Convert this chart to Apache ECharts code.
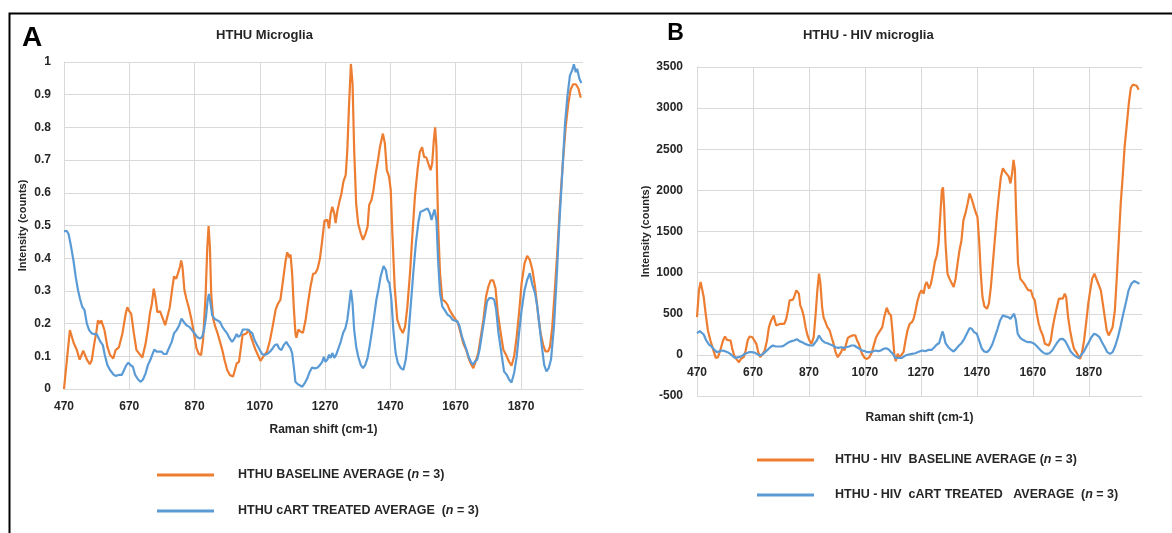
<!DOCTYPE html>
<html><head><meta charset="utf-8">
<script src="https://cdn.jsdelivr.net/npm/echarts@6/dist/echarts.min.js"></script>
<style>html,body{margin:0;padding:0;background:#fff}#c{width:1172px;height:533px}</style>
</head><body><div id="c"></div><script>
// ---- data ----
const xTicks = [470, 670, 870, 1070, 1270, 1470, 1670, 1870];
const titleA = 'HTHU Microglia';
const titleB = 'HTHU - HIV microglia';
const nameABase = 'HTHU BASELINE AVERAGE (n = 3)';
const nameACart = 'HTHU cART TREATED AVERAGE  (n = 3)';
const nameBBase = 'HTHU - HIV  BASELINE AVERAGE (n = 3)';
const nameBCart = 'HTHU - HIV  cART TREATED   AVERAGE  (n = 3)';

// [Raman shift, intensity]
const aBaseline = [[470,0.0],[488,0.18],[492,0.175],[500,0.14],[509,0.12],[518,0.09],[523,0.093],[529,0.117],[534,0.114],[541,0.088],[549,0.076],[555,0.088],[562,0.134],[570,0.18],[574,0.21],[580,0.2],[584,0.21],[589,0.215],[594,0.18],[603,0.129],[611,0.104],[621,0.093],[628,0.119],[638,0.127],[649,0.17],[659,0.23],[664,0.25],[670,0.238],[676,0.23],[684,0.17],[692,0.119],[700,0.109],[710,0.096],[720,0.139],[728,0.19],[733,0.23],[739,0.26],[745,0.307],[750,0.28],[756,0.235],[764,0.238],[771,0.22],[780,0.195],[786,0.198],[794,0.25],[802,0.31],[807,0.344],[814,0.337],[819,0.342],[825,0.373],[829,0.393],[833,0.373],[839,0.302],[845,0.276],[853,0.246],[861,0.21],[868,0.17],[876,0.124],[883,0.107],[890,0.104],[896,0.149],[904,0.291],[909,0.434],[913,0.498],[917,0.434],[921,0.29],[927,0.215],[933,0.192],[939,0.175],[948,0.144],[955,0.119],[962,0.088],[970,0.058],[978,0.043],[988,0.038],[992,0.043],[999,0.078],[1006,0.083],[1011,0.119],[1017,0.165],[1023,0.165],[1029,0.17],[1036,0.182],[1041,0.165],[1050,0.139],[1057,0.119],[1064,0.104],[1072,0.086],[1078,0.09],[1084,0.104],[1092,0.114],[1101,0.149],[1109,0.19],[1118,0.241],[1125,0.26],[1133,0.273],[1141,0.332],[1149,0.393],[1154,0.418],[1160,0.403],[1164,0.411],[1169,0.352],[1174,0.25],[1179,0.17],[1182,0.157],[1188,0.182],[1195,0.175],[1202,0.172],[1210,0.21],[1217,0.26],[1225,0.312],[1233,0.352],[1240,0.354],[1247,0.368],[1254,0.398],[1261,0.454],[1268,0.515],[1273,0.52],[1277,0.517],[1282,0.491],[1287,0.537],[1292,0.557],[1298,0.537],[1302,0.507],[1308,0.547],[1315,0.578],[1320,0.598],[1326,0.634],[1333,0.654],[1338,0.73],[1343,0.863],[1349,0.994],[1354,0.934],[1359,0.73],[1365,0.568],[1371,0.507],[1379,0.476],[1386,0.456],[1394,0.476],[1400,0.496],[1405,0.563],[1412,0.578],[1418,0.608],[1425,0.659],[1432,0.7],[1438,0.741],[1447,0.781],[1453,0.751],[1459,0.669],[1466,0.649],[1471,0.608],[1476,0.476],[1483,0.313],[1491,0.212],[1500,0.186],[1508,0.171],[1515,0.191],[1522,0.252],[1530,0.354],[1537,0.466],[1545,0.588],[1553,0.669],[1560,0.725],[1567,0.739],[1573,0.71],[1580,0.708],[1586,0.705],[1593,0.669],[1598,0.69],[1603,0.761],[1607,0.8],[1611,0.741],[1616,0.507],[1622,0.354],[1629,0.273],[1637,0.268],[1645,0.257],[1651,0.242],[1657,0.232],[1663,0.222],[1670,0.212],[1677,0.201],[1685,0.171],[1693,0.14],[1702,0.12],[1711,0.09],[1718,0.074],[1724,0.064],[1731,0.084],[1739,0.11],[1747,0.161],[1755,0.212],[1763,0.283],[1770,0.313],[1777,0.332],[1785,0.332],[1792,0.308],[1799,0.232],[1808,0.171],[1816,0.12],[1824,0.105],[1833,0.084],[1841,0.071],[1849,0.1],[1857,0.161],[1864,0.232],[1872,0.324],[1881,0.385],[1889,0.407],[1897,0.395],[1905,0.364],[1913,0.313],[1922,0.232],[1930,0.171],[1938,0.135],[1945,0.115],[1953,0.115],[1959,0.13],[1966,0.191],[1973,0.293],[1981,0.415],[1989,0.557],[1998,0.69],[2007,0.802],[2015,0.873],[2022,0.916],[2030,0.932],[2038,0.932],[2046,0.919],[2053,0.891]];

const aCart = [[470,0.482],[478,0.484],[484,0.474],[490,0.444],[499,0.393],[506,0.342],[513,0.302],[519,0.276],[526,0.251],[533,0.241],[540,0.2],[547,0.18],[555,0.17],[562,0.168],[570,0.168],[577,0.154],[582,0.144],[589,0.134],[595,0.104],[603,0.073],[611,0.058],[621,0.045],[628,0.04],[638,0.043],[647,0.043],[654,0.058],[661,0.073],[667,0.08],[674,0.073],[681,0.068],[688,0.043],[697,0.029],[705,0.022],[712,0.029],[720,0.048],[727,0.073],[735,0.09],[742,0.109],[747,0.121],[754,0.114],[762,0.114],[769,0.114],[776,0.107],[784,0.107],[791,0.124],[800,0.144],[807,0.17],[815,0.18],[823,0.195],[830,0.215],[837,0.205],[845,0.195],[854,0.19],[862,0.18],[870,0.17],[878,0.159],[886,0.154],[893,0.159],[899,0.18],[905,0.22],[910,0.271],[914,0.291],[919,0.261],[924,0.225],[931,0.215],[939,0.21],[948,0.205],[955,0.19],[962,0.18],[970,0.17],[978,0.154],[985,0.144],[992,0.154],[999,0.168],[1004,0.159],[1011,0.165],[1018,0.182],[1026,0.182],[1033,0.182],[1039,0.188],[1047,0.17],[1054,0.149],[1062,0.134],[1070,0.119],[1077,0.107],[1084,0.104],[1092,0.107],[1101,0.114],[1109,0.124],[1116,0.134],[1123,0.137],[1129,0.124],[1136,0.119],[1143,0.134],[1151,0.144],[1157,0.134],[1164,0.124],[1169,0.109],[1174,0.068],[1179,0.022],[1186,0.015],[1192,0.017],[1200,0.007],[1207,0.017],[1215,0.032],[1223,0.053],[1230,0.066],[1238,0.063],[1246,0.065],[1254,0.073],[1261,0.083],[1266,0.098],[1271,0.083],[1277,0.09],[1282,0.105],[1287,0.095],[1292,0.11],[1298,0.095],[1304,0.105],[1311,0.125],[1318,0.145],[1325,0.171],[1332,0.186],[1338,0.212],[1343,0.252],[1349,0.303],[1354,0.262],[1359,0.181],[1365,0.13],[1371,0.1],[1379,0.074],[1386,0.064],[1393,0.074],[1400,0.095],[1407,0.135],[1414,0.181],[1420,0.222],[1427,0.273],[1434,0.308],[1440,0.344],[1449,0.376],[1456,0.364],[1461,0.334],[1467,0.323],[1473,0.273],[1479,0.181],[1486,0.11],[1493,0.079],[1502,0.064],[1510,0.059],[1517,0.09],[1524,0.151],[1532,0.252],[1540,0.354],[1548,0.446],[1556,0.512],[1562,0.542],[1570,0.545],[1577,0.549],[1584,0.552],[1591,0.537],[1596,0.517],[1600,0.532],[1605,0.549],[1611,0.517],[1616,0.395],[1622,0.293],[1629,0.252],[1636,0.242],[1645,0.227],[1653,0.222],[1660,0.212],[1668,0.209],[1675,0.207],[1682,0.191],[1689,0.161],[1696,0.14],[1703,0.12],[1709,0.1],[1716,0.084],[1723,0.074],[1729,0.084],[1736,0.09],[1743,0.12],[1751,0.171],[1759,0.222],[1766,0.268],[1773,0.278],[1781,0.278],[1788,0.273],[1794,0.242],[1801,0.171],[1810,0.11],[1818,0.054],[1826,0.044],[1834,0.028],[1841,0.02],[1849,0.049],[1857,0.1],[1864,0.171],[1872,0.242],[1881,0.303],[1889,0.334],[1897,0.354],[1905,0.318],[1913,0.293],[1920,0.252],[1927,0.191],[1934,0.13],[1941,0.074],[1948,0.054],[1955,0.064],[1962,0.09],[1971,0.191],[1979,0.334],[1987,0.496],[1997,0.669],[2005,0.812],[2012,0.893],[2020,0.959],[2027,0.975],[2032,0.993],[2038,0.969],[2042,0.979],[2049,0.949],[2055,0.936]];

const bBaseline = [[470,459],[477,785],[483,886],[489,866],[494,703],[501,500],[509,297],[518,175],[527,73],[537,-37],[545,-28],[553,53],[563,175],[570,224],[577,183],[584,195],[590,175],[596,73],[603,-8],[610,-49],[620,-89],[627,-49],[637,-28],[644,53],[651,175],[658,224],[668,215],[675,207],[682,134],[689,33],[696,-28],[703,4],[712,53],[720,175],[727,337],[735,419],[744,480],[748,419],[753,358],[760,370],[768,378],[775,358],[782,378],[789,439],[795,541],[801,663],[807,683],[813,671],[819,724],[825,785],[829,793],[834,744],[839,602],[846,541],[852,459],[858,337],[865,236],[872,175],[879,134],[887,215],[894,500],[900,785],[906,988],[911,866],[917,581],[922,459],[929,398],[936,337],[944,297],[951,215],[958,134],[965,33],[973,-28],[979,-37],[985,33],[991,93],[997,53],[1003,134],[1009,207],[1017,224],[1025,236],[1031,256],[1036,236],[1042,175],[1048,134],[1054,73],[1060,12],[1069,-37],[1077,-49],[1086,-28],[1095,33],[1103,134],[1110,215],[1117,256],[1124,236],[1132,337],[1139,459],[1148,573],[1155,510],[1163,480],[1168,300],[1175,12],[1180,-77],[1187,12],[1194,-28],[1201,-8],[1208,33],[1215,175],[1222,297],[1230,378],[1238,398],[1244,439],[1251,541],[1257,642],[1265,744],[1272,785],[1280,744],[1285,846],[1291,886],[1299,805],[1306,866],[1313,988],[1320,1130],[1327,1211],[1333,1354],[1339,1679],[1345,2004],[1349,2037],[1353,1801],[1358,1354],[1365,988],[1372,927],[1379,907],[1387,825],[1394,927],[1401,1110],[1408,1272],[1415,1394],[1422,1638],[1429,1720],[1437,1841],[1444,1963],[1451,1902],[1458,1821],[1465,1740],[1472,1679],[1478,1394],[1484,988],[1490,703],[1497,589],[1506,561],[1513,622],[1520,825],[1527,1110],[1534,1394],[1541,1679],[1548,1923],[1556,2167],[1563,2268],[1570,2228],[1577,2207],[1584,2167],[1590,2085],[1596,2207],[1601,2370],[1606,2248],[1610,1760],[1617,1110],[1625,927],[1632,907],[1639,866],[1646,825],[1654,785],[1663,785],[1670,703],[1677,663],[1684,500],[1691,378],[1698,297],[1706,236],[1713,134],[1720,114],[1727,114],[1734,175],[1741,337],[1748,459],[1756,581],[1763,683],[1770,695],[1777,683],[1784,744],[1789,703],[1796,459],[1803,297],[1810,175],[1817,73],[1825,33],[1832,-8],[1839,-49],[1846,33],[1853,175],[1860,378],[1868,622],[1875,785],[1882,927],[1890,988],[1899,907],[1906,886],[1913,785],[1920,622],[1927,459],[1934,297],[1941,236],[1948,236],[1955,337],[1963,541],[1970,947],[1977,1394],[1984,1841],[1991,2167],[1998,2532],[2005,2776],[2013,3061],[2020,3244],[2027,3285],[2034,3297],[2041,3272],[2048,3224]];

const bCart = [[470,264],[480,289],[487,289],[494,248],[503,175],[513,126],[522,102],[532,61],[541,33],[551,45],[560,53],[570,45],[579,33],[589,12],[599,-20],[608,-37],[618,-28],[627,-20],[637,4],[646,20],[656,33],[665,33],[675,28],[684,12],[694,-8],[703,4],[713,33],[722,61],[732,93],[741,114],[751,102],[760,102],[770,102],[779,110],[789,134],[798,154],[808,167],[817,175],[827,191],[836,167],[846,154],[856,134],[865,122],[875,114],[884,114],[891,134],[898,175],[906,236],[912,215],[917,175],[927,150],[936,142],[946,126],[955,114],[965,93],[975,85],[984,93],[994,85],[1003,93],[1013,102],[1022,114],[1032,114],[1041,93],[1051,73],[1060,53],[1070,45],[1079,33],[1089,33],[1098,41],[1108,53],[1117,45],[1127,53],[1136,73],[1146,81],[1155,65],[1164,33],[1172,4],[1178,-37],[1190,-37],[1202,-37],[1214,-8],[1226,4],[1238,12],[1250,20],[1262,37],[1274,53],[1285,45],[1297,61],[1309,61],[1318,93],[1327,126],[1335,142],[1341,215],[1347,285],[1352,236],[1358,142],[1368,93],[1377,65],[1387,41],[1396,73],[1406,114],[1415,142],[1425,195],[1434,256],[1444,325],[1452,317],[1460,276],[1470,256],[1478,175],[1487,81],[1496,41],[1506,33],[1515,61],[1525,126],[1534,215],[1544,317],[1553,419],[1563,480],[1572,468],[1582,459],[1590,439],[1596,459],[1603,500],[1609,427],[1616,256],[1625,207],[1634,183],[1644,167],[1653,154],[1663,154],[1672,142],[1682,114],[1691,81],[1701,45],[1710,20],[1720,12],[1729,20],[1739,53],[1748,102],[1758,154],[1767,191],[1777,195],[1786,167],[1796,102],[1805,41],[1815,4],[1824,-20],[1834,-37],[1841,-20],[1851,33],[1860,93],[1870,154],[1879,215],[1889,256],[1898,244],[1908,215],[1917,154],[1927,93],[1936,33],[1946,12],[1955,33],[1965,114],[1974,215],[1984,358],[1993,500],[2003,642],[2012,785],[2022,866],[2032,898],[2039,906],[2046,874],[2051,866]];

const yA = { min: 0, max: 1, interval: 0.1 };
const yB = { min: -500, max: 3500, interval: 500 };

// ---- styling ----
const F = '"Liberation Sans", Arial, sans-serif';
const TXT = '#262626';
const GRID = '#d9d9d9';
const ORANGE = '#ED7D31';
const BLUE = '#5B9BD5';
const gridA = { left: 64, top: 62, width: 519, height: 327 };
const gridB = { left: 697, top: 67, width: 445, height: 329 };
// x axis of panel B crosses the value axis at 0 (Excel style)
const offB = -gridB.height * (0 - yB.min) / (yB.max - yB.min);

function fmt(v) { return String(v); }
function xAx(gi, nameGap, offset) {
  return {
    type: 'value', gridIndex: gi, min: 470, max: 2060, offset: offset,
    name: 'Raman shift (cm-1)', nameLocation: 'middle', nameGap: nameGap,
    nameTextStyle: { fontFamily: F, fontWeight: 'bold', fontSize: 12, color: TXT },
    axisLine: { show: true, onZero: false, lineStyle: { color: GRID, width: 1 } },
    axisTick: { show: false, customValues: xTicks },
    axisLabel: { customValues: xTicks, formatter: fmt, margin: 12, fontFamily: F, fontWeight: 'bold', fontSize: 12, color: TXT },
    splitLine: { show: true, lineStyle: { color: GRID, width: 1 } }
  };
}
function yAx(gi, y, nameGap, margin) {
  return {
    type: 'value', gridIndex: gi, min: y.min, max: y.max, interval: y.interval,
    name: 'Intensity (counts)', nameLocation: 'middle', nameGap: nameGap,
    nameTextStyle: { fontFamily: F, fontWeight: 'bold', fontSize: 11, color: TXT },
    axisLine: { show: true, onZero: false, lineStyle: { color: GRID } },
    axisTick: { show: false },
    axisLabel: { formatter: fmt, margin: margin, fontFamily: F, fontWeight: 'bold', fontSize: 12, color: TXT },
    splitLine: { show: true, lineStyle: { color: GRID, width: 1 } }
  };
}
function legendFmt(name) {
  return '{s| }' + name.replace('(n', '({i|n}');
}
function legendOpt(names, left, top, gap, pad) {
  return {
    data: names, orient: 'vertical', left: left, top: top, padding: 0,
    itemWidth: 57, itemHeight: 14, itemGap: gap,
    icon: 'path://M0,0M0,14M0,5.5L57,5.5L57,8.5L0,8.5Z',
    itemStyle: { borderWidth: 0 },
    formatter: legendFmt,
    selectedMode: false,
    textStyle: {
      fontFamily: F, fontWeight: 'bold', fontSize: 12.5, color: TXT,
      rich: {
        s: { width: pad, fontSize: 12.5 },
        i: { fontFamily: F, fontWeight: 'bold', fontStyle: 'italic', fontSize: 12.5, color: TXT }
      }
    }
  };
}
function line(name, data, color, xi, yi) {
  return {
    type: 'line', name: name, data: data, xAxisIndex: xi, yAxisIndex: yi,
    showSymbol: false, symbol: 'none', smooth: false, animation: false,
    lineStyle: { color: color, width: 2.2 }, itemStyle: { color: color }
  };
}

const chart = echarts.init(document.getElementById('c'), null, { renderer: 'canvas' });
chart.setOption({
  animation: false,
  backgroundColor: '#fff',
  grid: [gridA, gridB],
  xAxis: [xAx(0, 35, 0), xAx(1, 57, offB)],
  yAxis: [yAx(0, yA, 36, 13), yAx(1, yB, 46, 14)],
  legend: [
    legendOpt([nameABase, nameACart], 157, 468, 22, 19),
    legendOpt([nameBBase, nameBCart], 757, 453, 21, 16)
  ],
  series: [
    line(nameABase, aBaseline, ORANGE, 0, 0),
    line(nameACart, aCart, BLUE, 0, 0),
    line(nameBBase, bBaseline, ORANGE, 1, 1),
    line(nameBCart, bCart, BLUE, 1, 1)
  ],
  graphic: [
    { type: 'polyline', silent: true, shape: { points: [[9.5, 533], [9.5, 13.5], [1172, 13.5]] },
      style: { stroke: '#000', lineWidth: 2, fill: null } },
    { type: 'text', x: 32, y: 38.5, style: { text: 'A', font: 'bold 28px ' + F, fill: '#000', align: 'center', verticalAlign: 'middle' } },
    { type: 'text', x: 675.5, y: 34, style: { text: 'B', font: 'bold 23px ' + F, fill: '#000', align: 'center', verticalAlign: 'middle' } },
    { type: 'text', x: 264.5, y: 35.5, style: { text: titleA, font: 'bold 13px ' + F, fill: TXT, align: 'center', verticalAlign: 'middle' } },
    { type: 'text', x: 868.3, y: 35.5, style: { text: titleB, font: 'bold 13px ' + F, fill: TXT, align: 'center', verticalAlign: 'middle' } }
  ]
});
</script></body></html>
